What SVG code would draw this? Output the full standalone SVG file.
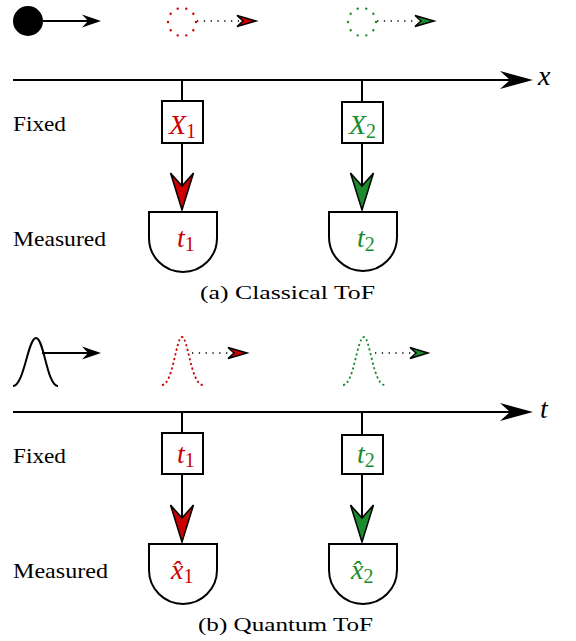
<svg xmlns="http://www.w3.org/2000/svg" width="576" height="641" viewBox="0 0 576 641">
<style>
.ln{stroke:#000;stroke-width:2;fill:none}
.box{stroke:#000;stroke-width:2;fill:#fff}
text{font-family:"Liberation Serif","Times New Roman",Times,"DejaVu Serif",serif}
.lbl{font-size:22px;fill:#000}
.cap{font-size:18px;fill:#000}
.m{font-style:italic;font-size:28px}
.s{font-size:20px}
.red{fill:#cc0000}
.grn{fill:#1a8c2e}
.ah{stroke:#000;stroke-width:1.5;stroke-linejoin:miter}
.dotl{stroke:#000;stroke-width:1.3;stroke-dasharray:1.3 5.5;fill:none}
</style>
<rect width="576" height="641" fill="#fff"/>

<!-- (a) Classical -->
<g id="particle-a">
<circle cx="28" cy="21" r="15" fill="#000"/>
<line x1="43" y1="21" x2="90" y2="21" class="ln" stroke-width="1.5"/>
<path d="M101,21 L82,14.5 L88,21 L82,27.5 Z" fill="#000"/>
</g>
<g id="particle-a-red">
<circle cx="182" cy="22" r="14" fill="none" stroke="#cc0000" stroke-width="2.4" stroke-linecap="round" stroke-dasharray="0 1" pathLength="10"/>
<line x1="197" y1="21" x2="240" y2="21" class="dotl"/>
<path d="M256,21 L237,15.5 L243,21 L237,26.5 Z" fill="#cc0000" class="ah" stroke-width="1.2"/>
</g>
<g id="particle-a-green">
<circle cx="362" cy="22" r="14" fill="none" stroke="#1a8c2e" stroke-width="2.4" stroke-linecap="round" stroke-dasharray="0 1" pathLength="10"/>
<line x1="377" y1="21" x2="418" y2="21" class="dotl"/>
<path d="M434,21 L415,15.5 L421,21 L415,26.5 Z" fill="#1a8c2e" class="ah" stroke-width="1.2"/>
</g>

<g id="axis-x">
<line x1="13" y1="80" x2="512" y2="80" class="ln"/>
<path d="M533,80 L500,71 L510,80 L500,89 Z" fill="#000"/>
<text x="538" y="85" class="m" fill="#000">x</text>
</g>

<g id="connectors-a">
<line x1="182" y1="80" x2="182" y2="101" class="ln"/>
<line x1="362" y1="80" x2="362" y2="102" class="ln"/>
<line x1="182" y1="143" x2="182" y2="200" class="ln"/>
<line x1="362" y1="143" x2="362" y2="200" class="ln"/>
<path d="M182,210 L170.5,173 L182,186 L193.5,173 Z" fill="#cc0000" class="ah" stroke-width="2"/>
<path d="M362,210 L350.5,173 L362,186 L373.5,173 Z" fill="#1a8c2e" class="ah" stroke-width="2"/>
</g>

<g id="label-fixed-a"><text x="13" y="131" class="lbl" textLength="53" lengthAdjust="spacingAndGlyphs">Fixed</text></g>
<g id="label-measured-a"><text x="13" y="246" class="lbl" textLength="93" lengthAdjust="spacingAndGlyphs">Measured</text></g>

<g id="box-X1">
<rect x="162" y="101" width="41" height="42" class="box"/>
<text x="169" y="134" class="red"><tspan class="m">X</tspan><tspan class="s" dy="4">1</tspan></text>
</g>
<g id="box-X2">
<rect x="342" y="102" width="41" height="41" class="box"/>
<text x="349" y="134" class="grn"><tspan class="m">X</tspan><tspan class="s" dy="4">2</tspan></text>
</g>

<g id="det-t1">
<path d="M149,212 H217 V238 A34,34 0 0 1 149,238 Z" class="box"/>
<text x="177" y="247" class="red"><tspan class="m">t</tspan><tspan class="s" dy="4">1</tspan></text>
</g>
<g id="det-t2">
<path d="M329,212 H397 V237 A34,34 0 0 1 329,237 Z" class="box"/>
<text x="357" y="247" class="grn"><tspan class="m">t</tspan><tspan class="s" dy="4">2</tspan></text>
</g>

<g id="caption-a"><text x="200" y="299" class="cap" textLength="175" lengthAdjust="spacingAndGlyphs">(a) Classical ToF</text></g>

<!-- (b) Quantum -->
<g id="wave-b">
<path d="M13,386 C24,386 28,338 36,338 C44,338 47,386 58,386" class="ln" stroke-width="1.8"/>
<line x1="42" y1="353" x2="90" y2="353" class="ln" stroke-width="1.5"/>
<path d="M101,353 L82,346.5 L88,353 L82,359.5 Z" fill="#000"/>
</g>
<g id="wave-b-red">
<path d="M162,385 C173,385 176,337 182,337 C188,337 191,385 203,385" fill="none" stroke="#cc0000" stroke-width="1.8" stroke-dasharray="2.2 2.6"/>
<line x1="192" y1="353" x2="232" y2="353" class="dotl"/>
<path d="M247,353 L228,347.5 L234,353 L228,358.5 Z" fill="#cc0000" class="ah" stroke-width="1.2"/>
</g>
<g id="wave-b-green">
<path d="M343,385 C354,385 357,337 364,337 C370,337 373,385 385,385" fill="none" stroke="#1a8c2e" stroke-width="1.8" stroke-dasharray="2.2 2.6"/>
<line x1="375" y1="353" x2="414" y2="353" class="dotl"/>
<path d="M428,353 L410,347.5 L416,353 L410,358.5 Z" fill="#1a8c2e" class="ah" stroke-width="1.2"/>
</g>

<g id="axis-t">
<line x1="13" y1="412" x2="512" y2="412" class="ln"/>
<path d="M533,412 L500,403 L510,412 L500,421 Z" fill="#000"/>
<text x="540" y="418" class="m" fill="#000">t</text>
</g>

<g id="connectors-b">
<line x1="182" y1="412" x2="182" y2="433" class="ln"/>
<line x1="362" y1="412" x2="362" y2="435" class="ln"/>
<line x1="182" y1="474" x2="182" y2="532" class="ln"/>
<line x1="362" y1="474" x2="362" y2="532" class="ln"/>
<path d="M182,542 L170.5,505 L182,518 L193.5,505 Z" fill="#cc0000" class="ah" stroke-width="2"/>
<path d="M362,542 L350.5,505 L362,518 L373.5,505 Z" fill="#1a8c2e" class="ah" stroke-width="2"/>
</g>

<g id="label-fixed-b"><text x="13" y="463" class="lbl" textLength="53" lengthAdjust="spacingAndGlyphs">Fixed</text></g>
<g id="label-measured-b"><text x="13" y="578" class="lbl" textLength="95" lengthAdjust="spacingAndGlyphs">Measured</text></g>

<g id="box-t1">
<rect x="162" y="433" width="41" height="41" class="box"/>
<text x="177" y="463" class="red"><tspan class="m">t</tspan><tspan class="s" dy="4">1</tspan></text>
</g>
<g id="box-t2">
<rect x="342" y="435" width="41" height="39" class="box"/>
<text x="357" y="463" class="grn"><tspan class="m">t</tspan><tspan class="s" dy="4">2</tspan></text>
</g>

<g id="det-x1">
<path d="M149,544 H217 V570 A34,34 0 0 1 149,570 Z" class="box"/>
<text x="171" y="579" class="red"><tspan class="m">x̂</tspan><tspan class="s" dy="4">1</tspan></text>
</g>
<g id="det-x2">
<path d="M329,544 H397 V570 A34,34 0 0 1 329,570 Z" class="box"/>
<text x="351" y="579" class="grn"><tspan class="m">x̂</tspan><tspan class="s" dy="4">2</tspan></text>
</g>

<g id="caption-b"><text x="198" y="631" class="cap" textLength="175" lengthAdjust="spacingAndGlyphs">(b) Quantum ToF</text></g>
</svg>
